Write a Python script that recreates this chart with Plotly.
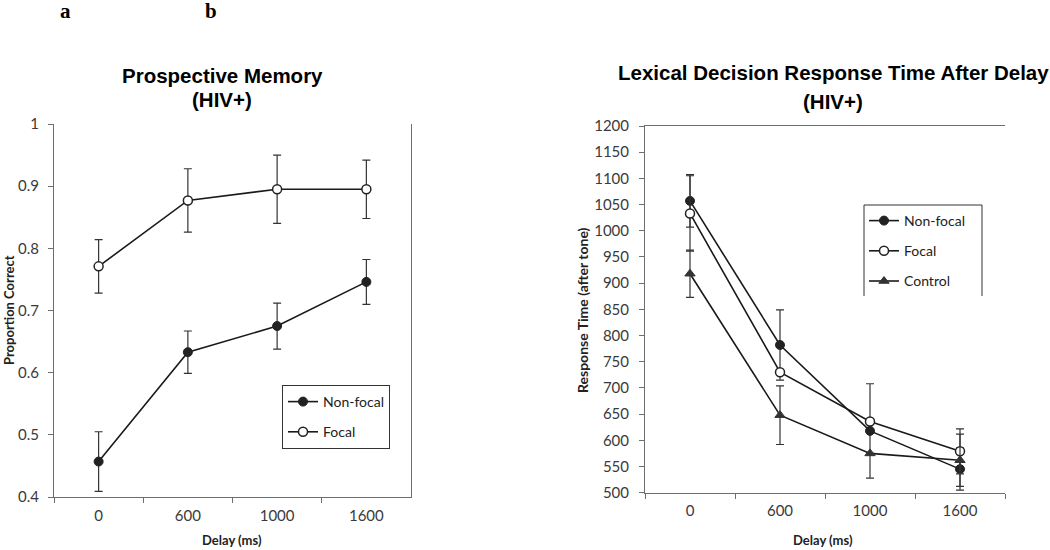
import plotly.graph_objects as go

delays = ["0", "600", "1000", "1600"]

pm_nonfocal = [0.457, 0.633, 0.675, 0.746]
pm_nonfocal_err = [0.048, 0.034, 0.037, 0.036]
pm_focal = [0.771, 0.877, 0.895, 0.895]
pm_focal_err = [0.043, 0.051, 0.055, 0.047]

rt_nonfocal = [1057, 782, 618, 545]
rt_nonfocal_err = [50, 67, 90, 40]
rt_focal = [1033, 730, 636, 579]
rt_focal_err = [72, 0, 0, 43]
rt_control = [918, 648, 575, 562]
rt_control_err = [45, 56, 0, 50]

pm_yticks = [0.4, 0.5, 0.6, 0.7, 0.8, 0.9, 1]
pm_yticktext = ["0.4", "0.5", "0.6", "0.7", "0.8", "0.9", "1"]
rt_yticks = list(range(500, 1201, 50))

W, H = 1050, 550
def px(x):
    return x / W
def py(y):
    return (H - y) / H

LINE = "#1a1a1a"
ERR = "#333333"
TICKFONT = dict(family="Lato", size=15, color="#3a3a3a")
LEGFONT = dict(family="Lato", size=14, color="#222222")

fig = go.Figure()

def err(arr):
    return dict(type="data", array=arr, color=ERR, thickness=1.2, width=4, visible=True)

fig.add_trace(go.Scatter(
    x=delays, y=pm_nonfocal, name="Non-focal", mode="lines+markers",
    line=dict(color=LINE, width=1.6),
    marker=dict(symbol="circle", size=9, color="#222222", line=dict(color="#222222", width=1)),
    error_y=err(pm_nonfocal_err), xaxis="x", yaxis="y", legend="legend", legendgroup="a1"))
fig.add_trace(go.Scatter(
    x=delays, y=pm_focal, name="Focal", mode="lines+markers",
    line=dict(color=LINE, width=1.6),
    marker=dict(symbol="circle", size=9, color="white", line=dict(color="#222222", width=1.5)),
    error_y=err(pm_focal_err), xaxis="x", yaxis="y", legend="legend", legendgroup="a2"))

fig.add_trace(go.Scatter(
    x=delays, y=rt_nonfocal, name="Non-focal", mode="lines+markers",
    line=dict(color=LINE, width=1.6),
    marker=dict(symbol="circle", size=9, color="#222222", line=dict(color="#222222", width=1)),
    error_y=err(rt_nonfocal_err), xaxis="x2", yaxis="y2", legend="legend2", legendgroup="b1"))
fig.add_trace(go.Scatter(
    x=delays, y=rt_focal, name="Focal", mode="lines+markers",
    line=dict(color=LINE, width=1.6),
    marker=dict(symbol="circle", size=9, color="white", line=dict(color="#222222", width=1.5)),
    error_y=err(rt_focal_err), xaxis="x2", yaxis="y2", legend="legend2", legendgroup="b2"))
fig.add_trace(go.Scatter(
    x=delays, y=rt_control, name="Control", mode="lines+markers",
    line=dict(color=LINE, width=1.6),
    marker=dict(symbol="triangle-up", size=9, color="#333333", line=dict(color="#333333", width=1)),
    error_y=err(rt_control_err), xaxis="x2", yaxis="y2", legend="legend2", legendgroup="b3"))

AXCOL = "#6e6e6e"

fig.update_layout(
    width=W, height=H,
    margin=dict(l=0, r=0, t=0, b=0, pad=0, autoexpand=False),
    paper_bgcolor="white", plot_bgcolor="white",
    xaxis=dict(domain=[px(54), px(411)], anchor="y", type="category",
               categoryorder="array", categoryarray=delays, automargin=False,
               range=[-0.5, 3.5], showline=True, linecolor=AXCOL, linewidth=1,
               ticks="outside", tickson="boundaries", ticklen=5, tickcolor=AXCOL,
               ticklabelstandoff=5,
               showgrid=False, zeroline=False, tickfont=TICKFONT),
    yaxis=dict(domain=[py(497), py(124)], anchor="x", range=[0.4, 1.0], automargin=False,
               tickvals=pm_yticks, ticktext=pm_yticktext,
               showline=True, mirror=True, linecolor=AXCOL, linewidth=1,
               ticks="outside", ticklen=5, tickcolor=AXCOL, ticklabelstandoff=6,
               showgrid=False, zeroline=False, tickfont=TICKFONT),
    xaxis2=dict(domain=[px(645), px(1005)], anchor="y2", type="category",
                categoryorder="array", categoryarray=delays, automargin=False,
                range=[-0.5, 3.5], showline=True, mirror=True, linecolor=AXCOL, linewidth=1,
                ticks="outside", tickson="boundaries", ticklen=5, tickcolor=AXCOL,
                ticklabelstandoff=4,
                showgrid=False, zeroline=False, tickfont=TICKFONT),
    yaxis2=dict(domain=[py(492.7), py(126)], anchor="x2", range=[500, 1200], automargin=False,
                tickvals=rt_yticks,
                showline=True, linecolor=AXCOL, linewidth=1,
                ticks="outside", ticklen=5, tickcolor=AXCOL, ticklabelstandoff=7,
                showgrid=False, zeroline=False, tickfont=TICKFONT),
    legend=dict(x=px(282), y=py(385), xanchor="left", yanchor="top",
                bgcolor="white", bordercolor="#333333", borderwidth=1,
                font=LEGFONT, traceorder="grouped", tracegroupgap=9,
                itemwidth=30),
    legend2=dict(x=px(864), y=py(205), xanchor="left", yanchor="top",
                 bgcolor="rgba(0,0,0,0)", borderwidth=0,
                 font=LEGFONT, traceorder="grouped", tracegroupgap=9,
                 itemwidth=30),
    showlegend=True,
)

# open-bottom frame of the right legend
for (x0, y0, x1, y1) in [(864, 205, 864, 296), (864, 205, 982, 205), (982, 205, 982, 296)]:
    fig.add_shape(type="line", xref="paper", yref="paper",
                  x0=px(x0), y0=py(y0), x1=px(x1), y1=py(y1),
                  line=dict(color="#333333", width=1))

ann = []
TFONT = dict(family="Liberation Sans", size=20.5, color="black")
ann.append(dict(text="<b>Prospective Memory</b>", x=px(222), y=py(75)))
ann.append(dict(text="<b>(HIV+)</b>", x=px(222), y=py(99)))
ann.append(dict(text="<b>Lexical Decision Response Time After Delay</b>", x=px(833), y=py(73)))
ann.append(dict(text="<b>(HIV+)</b>", x=px(833), y=py(102)))
for a in ann:
    fig.add_annotation(xref="paper", yref="paper", xanchor="center", yanchor="middle",
                       showarrow=False, font=TFONT, **a)

SFONT = dict(family="Liberation Serif", size=21, color="black")
fig.add_annotation(text="<b>a</b>", x=px(65), y=py(11), xref="paper", yref="paper",
                   xanchor="center", yanchor="middle", showarrow=False, font=SFONT)
fig.add_annotation(text="<b>b</b>", x=px(211), y=py(11), xref="paper", yref="paper",
                   xanchor="center", yanchor="middle", showarrow=False, font=SFONT)

AFONT = dict(family="Lato", size=13, color="#222222")
fig.add_annotation(text="<b>Proportion Correct</b>", x=px(9), y=py(310), xref="paper", yref="paper",
                   xanchor="center", yanchor="middle", showarrow=False, textangle=-90, font=AFONT)
fig.add_annotation(text="<b>Delay (ms)</b>", x=px(232), y=py(540), xref="paper", yref="paper",
                   xanchor="center", yanchor="middle", showarrow=False, font=AFONT)
fig.add_annotation(text="<b>Response Time (after tone)</b>", x=px(582), y=py(310), xref="paper", yref="paper",
                   xanchor="center", yanchor="middle", showarrow=False, textangle=-90,
                   font=dict(family="Lato", size=14, color="#222222"))
fig.add_annotation(text="<b>Delay (ms)</b>", x=px(823), y=py(540), xref="paper", yref="paper",
                   xanchor="center", yanchor="middle", showarrow=False, font=AFONT)

fig.write_html(
    "out.html",
    config={"displayModeBar": False},
    post_script="document.body.style.margin='0';document.documentElement.style.overflow='hidden';",
)
